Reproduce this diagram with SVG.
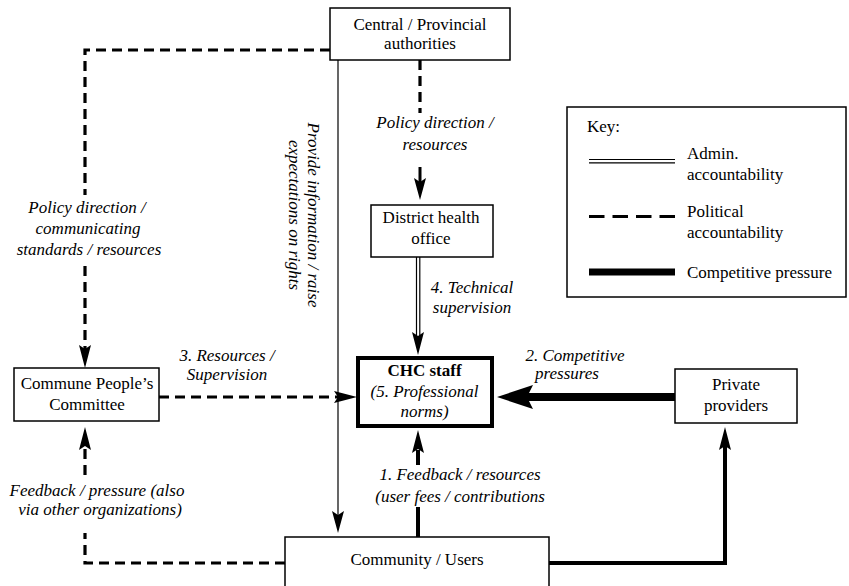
<svg xmlns="http://www.w3.org/2000/svg" width="849" height="586" viewBox="0 0 849 586">
<style>
text{font-family:"Liberation Serif","Times New Roman","DejaVu Serif",serif;font-size:17px;fill:#000}
.c{text-anchor:middle}
.i{font-style:italic}
.b{font-weight:bold}
.box{fill:#fff;stroke:#000;stroke-width:1.5}
.pol{fill:none;stroke:#000;stroke-width:3.2;stroke-dasharray:10 6}
.thin{fill:none;stroke:#000;stroke-width:1.2}
.thick{fill:none;stroke:#000;stroke-width:4}
.ah{fill:#000;stroke:none}
</style>
<rect width="849" height="586" fill="#fff"/>
<g id="connectors">
  <!-- Central -> Commune -->
  <path class="pol" d="M330,50 H85 V195"/>
  <path class="pol" d="M85,266 V350"/>
  <path class="ah" d="M85,368 L79,345 L85,349 L91,345 Z"/>
  <text class="c i" x="87" y="213">Policy direction /</text>
  <text class="c i" x="88" y="234">communicating</text>
  <text class="c i" x="89" y="255">standards / resources</text>
  <!-- Central -> District -->
  <path class="pol" d="M420,60 V113"/>
  <path class="thin" style="stroke-width:3" d="M420,167 V184"/>
  <path class="ah" d="M420,200 L414,178 L420,182 L426,178 Z"/>
  <text class="c i" x="435" y="128">Policy direction /</text>
  <text class="c i" x="435" y="150">resources</text>
  <!-- Central -> Community thin -->
  <path class="thin" d="M338,60 V516"/>
  <path class="ah" d="M338,533 L332,511 L338,515 L344,511 Z"/>
  <text class="c i" transform="translate(308,215) rotate(90)">Provide information / raise</text>
  <text class="c i" transform="translate(289,215) rotate(90)">expectations on rights</text>
  <!-- District -> CHC double -->
  <path class="thin" d="M416.5,257 V336 M419.8,257 V336"/>
  <path class="ah" d="M418,355 L412,332 L418,336 L424,332 Z"/>
  <text class="c i" x="472" y="293">4. Technical</text>
  <text class="c i" x="472" y="313">supervision</text>
  <!-- Private -> CHC -->
  <path class="thick" style="stroke-width:8" d="M675,397 H525"/>
  <path class="ah" d="M497,397 L533,385 L527,397 L533,409 Z"/>
  <text class="c i" x="575" y="361">2. Competitive</text>
  <text class="c i" x="567" y="379">pressures</text>
  <!-- Commune -> CHC -->
  <path class="pol" d="M159,397 H340"/>
  <path class="ah" d="M357,397 L334,391 L338,397 L334,403 Z"/>
  <text class="c i" x="227" y="361">3. Resources /</text>
  <text class="c i" x="227" y="380">Supervision</text>
  <!-- Community -> CHC -->
  <path class="thick" d="M418,537 V507"/>
  <path class="thick" d="M418,465 V450"/>
  <path class="ah" d="M418,430 L412,453 L418,449 L424,453 Z"/>
  <text class="c i" x="460" y="480">1. Feedback / resources</text>
  <text class="c i" x="460" y="502">(user fees / contributions</text>
  <!-- Community -> Private -->
  <path class="thick" d="M549,563 H725 V445"/>
  <path class="ah" d="M725,427 L719,450 L725,446 L731,450 Z"/>
  <!-- Community -> Commune feedback -->
  <path class="pol" d="M285,563 H85 V533"/>
  <path class="pol" d="M85,475 V448"/>
  <path class="ah" d="M85,427 L79,450 L85,446 L91,450 Z"/>
  <text class="c i" x="97" y="496">Feedback / pressure (also</text>
  <text class="c i" x="100" y="515">via other organizations)</text>
</g>
<g id="central">
  <rect class="box" x="330" y="8" width="180" height="52"/>
  <text class="c" x="420" y="30">Central / Provincial</text>
  <text class="c" x="420" y="49">authorities</text>
</g>
<g id="district">
  <rect class="box" x="371" y="205" width="122" height="52"/>
  <text class="c" x="431" y="223">District health</text>
  <text class="c" x="431" y="244">office</text>
</g>
<g id="chc">
  <rect class="box" style="stroke-width:4" x="358" y="358" width="134" height="68"/>
  <text class="c b" x="424.5" y="376">CHC staff</text>
  <text class="c i" x="424.5" y="397">(5. Professional</text>
  <text class="c i" x="424.5" y="417">norms)</text>
</g>
<g id="commune">
  <rect class="box" x="14" y="368" width="145" height="53"/>
  <text class="c" x="87" y="389">Commune People’s</text>
  <text class="c" x="87" y="410">Committee</text>
</g>
<g id="private">
  <rect class="box" x="675" y="369" width="122" height="54"/>
  <text class="c" x="736" y="390">Private</text>
  <text class="c" x="736" y="411">providers</text>
</g>
<g id="community">
  <rect class="box" x="285" y="537" width="264" height="60"/>
  <text class="c" x="417" y="565">Community / Users</text>
</g>
<g id="key">
  <rect class="box" x="567" y="107" width="279" height="190"/>
  <text x="587" y="132">Key:</text>
  <path class="thin" d="M589,159.5 H675 M589,162.8 H675"/>
  <text x="687" y="159">Admin.</text>
  <text x="687" y="180">accountability</text>
  <path class="pol" style="stroke-dasharray:15.5 8" d="M589,216.5 H675"/>
  <text x="687" y="217">Political</text>
  <text x="687" y="238">accountability</text>
  <path class="thick" style="stroke-width:7" d="M589,272 H675"/>
  <text x="687" y="278">Competitive pressure</text>
</g>
</svg>
